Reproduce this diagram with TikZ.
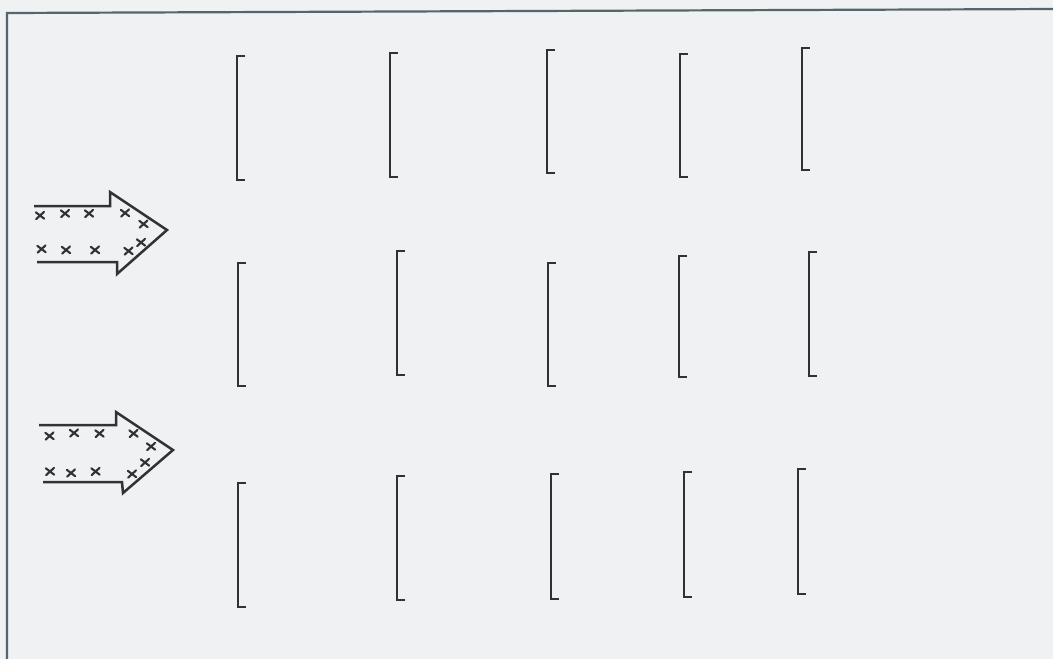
\documentclass[tikz,border=0pt]{standalone}
\definecolor{bgcol}{HTML}{F0F1F3}
\definecolor{inkcol}{HTML}{303336}
\definecolor{frcol}{HTML}{55656B}
\begin{document}
\begin{tikzpicture}[x=1pt,y=-1pt,
  brk/.style={draw=inkcol,line width=2.8pt,line join=miter,line cap=butt},
  arr/.style={draw=inkcol,line width=2.5pt,line join=miter},
  framestyle/.style={draw=frcol,line width=2.2pt},
  xm/.pic={\draw[inkcol,line width=2.1pt,line cap=round] (-4.2,-3.2) -- (4.2,3.2) (-3.8,3.6) -- (4,-3.6);}]
\fill[bgcol] (0,0) rectangle (1053,659);
\useasboundingbox (0,0) rectangle (1053,659);
% frame
\draw[framestyle] (7,661) -- (7,13) -- (1055,9);
% brackets: x / top / bottom
\foreach \bx/\bt/\bb in {
  237/56/180, 390/53/177, 547/50/173, 680/54/177, 802/48/170,
  238/263/386, 397/251/375, 548/263/386, 679/256/377, 809/252/376,
  238/483/607, 397/476/600, 551/474/599, 684/472/597, 798/469/594}
  \draw[brk] (\bx+8,\bt) -- (\bx,\bt) -- (\bx,\bb) -- (\bx+8,\bb);
% arrow 1
\draw[arr] (34,206) -- (110,206) -- (110,192) -- (167,230) -- (117,274) -- (117,262) -- (37,262);
\foreach \px/\py in {40/215.5, 65/213.5, 89/213.5, 125/213, 143.5/224,
                     41.5/249, 66/250, 95/250, 128.5/251, 141/242.5}
  \pic at (\px,\py) {xm};
% arrow 2
\draw[arr] (39,425) -- (116,425) -- (116,412) -- (173,450) -- (123,493) -- (122,482) -- (43,482);
\foreach \px/\py in {49.5/436, 74/433, 99.5/433.5, 133.5/433.5, 151/446.5,
                     50/471.5, 71/473, 95.5/471.5, 132/474, 145/462.5}
  \pic at (\px,\py) {xm};
\end{tikzpicture}
\end{document}
